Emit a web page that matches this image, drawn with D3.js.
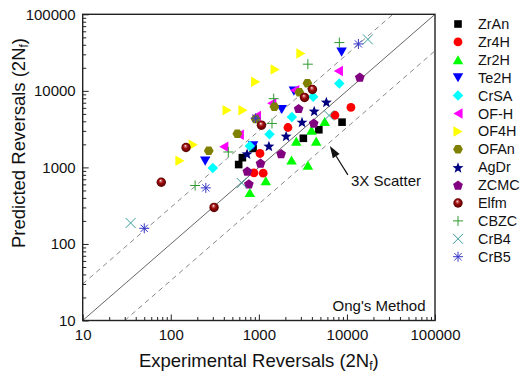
<!DOCTYPE html>
<html>
<head>
<meta charset="utf-8">
<script src="https://cdn.jsdelivr.net/npm/d3@7"></script>
<style>
  body { margin: 0; background: #fff; }
  svg { display: block; font-family: "Liberation Sans", Arial, sans-serif; }
</style>
</head>
<body>
<svg id="chart" width="530" height="372"></svg>
<script>
// ---------------- DATA ----------------
const seriesNames = ["ZrAn","Zr4H","Zr2H","Te2H","CrSA","OF-H","OF4H","OFAn","AgDr","ZCMC","Elfm","CBZC","CrB4","CrB5"];
const ZrAn = [[590,1090],[650,1340],[860,1770],[3200,2400],[4800,3100],[8800,3900]];
const Zr4H = [[880,850],[1120,840],[1030,1520],[2140,3320],[7300,4800],[11100,6100]];
const Zr2H = [[790,470],[1200,670],[2350,1250],[3600,1070],[2660,2200],[3960,3070],[4480,2200],[5600,4000]];
const Te2H = [[246,1210],[860,1920],[1820,5700],[2500,9900],[8700,32000]];
const CrSA = [[300,980],[790,1900],[1320,2720],[2370,4540],[4140,8400],[8200,12500]];
const OFH  = [[400,1860],[600,2670],[940,4700],[1400,6900],[2550,10200],[8000,18200]];
const OF4H = [[127,1220],[180,1980],[436,5600],[660,5600],[920,13100],[1530,19000],[3000,30700]];
const OFAn = [[270,1650],[570,2750],[920,4300],[1500,6200],[2880,9600],[3560,12600]];
const AgDr = [[735,1520],[1300,1920],[2040,2590],[3090,3940],[4250,5500],[5840,7200]];
const ZCMC = [[740,900],[770,610],[1045,1140],[1790,1520],[2830,5900],[4200,3800],[14000,15200]];
const Elfm = [[78,640],[149,1820],[310,300],[1070,3560],[3300,8200],[4060,10400]];
const CBZC = [[189,580],[450,1590],[1410,3750],[1475,7900],[3600,22300],[8200,42700]];
const CrB4 = [[35,188],[640,625],[6270,4770],[17300,47000]];
const CrB5 = [[50,160],[250,540],[920,4400],[13500,41000]];
const seriesData = [ZrAn,Zr4H,Zr2H,Te2H,CrSA,OFH,OF4H,OFAn,AgDr,ZCMC,Elfm,CBZC,CrB4,CrB5];
const majorTicks = [10,100,1000,10000,100000];
const scatterFactor = 3;

// ---------------- STYLE ----------------
const styles = [
  {shape:"square",   color:"#000000", size:7.6},
  {shape:"circle",   color:"#ff0000", size:8.8},
  {shape:"triUp",    color:"#00ff00", size:10.5},
  {shape:"triDown",  color:"#0000ff", size:10.5},
  {shape:"diamond",  color:"#00ffff", size:10.5},
  {shape:"triLeft",  color:"#ff00ff", size:10.5},
  {shape:"triRight", color:"#ffff00", size:10.5},
  {shape:"hexagon",  color:"#808000", size:9.8},
  {shape:"star",     color:"#000080", size:11},
  {shape:"pentagon", color:"#800080", size:10},
  {shape:"sphere",   color:"#800000", size:9.4},
  {shape:"plus",     color:"#2e9a2e", size:10},
  {shape:"cross",    color:"#3a9c9c", size:10},
  {shape:"asterisk", color:"#3838c8", size:10}
];

const W = 530, H = 372;
const L = 82.7, R = 435, T = 14.3, B = 320.5;

const svg = d3.select("#chart");
const defs = svg.append("defs");
const grad = defs.append("radialGradient").attr("id","sphereGrad")
  .attr("cx","0.5").attr("cy","0.5").attr("r","0.55").attr("fx","0.42").attr("fy","0.3");
grad.append("stop").attr("offset","0%").attr("stop-color","#ffffff");
grad.append("stop").attr("offset","18%").attr("stop-color","#d07070");
grad.append("stop").attr("offset","45%").attr("stop-color","#9a0a0a");
grad.append("stop").attr("offset","100%").attr("stop-color","#4a0000");

const x = d3.scaleLog().domain([10,100000]).range([L,R]);
const y = d3.scaleLog().domain([10,100000]).range([B,T]);

// minor ticks
const minorTicks = [];
for (let d = 10; d < 100000; d *= 10) for (let k = 2; k <= 9; k++) minorTicks.push(d*k);

// clip
defs.append("clipPath").attr("id","plotClip").append("rect")
  .attr("x",L).attr("y",T).attr("width",R-L).attr("height",B-T);

// reference lines
const lineGen = d3.line().x(d=>x(d[0])).y(d=>y(d[1]));
const gLines = svg.append("g").attr("clip-path","url(#plotClip)");
gLines.append("path").datum([[10,10],[100000,100000]]).attr("d",lineGen)
  .attr("fill","none").attr("stroke","#666").attr("stroke-width",1);
gLines.append("path").datum([[10,10*scatterFactor],[100000/scatterFactor,100000]]).attr("d",lineGen)
  .attr("fill","none").attr("stroke","#888").attr("stroke-width",1).attr("stroke-dasharray","5,4");
gLines.append("path").datum([[10*scatterFactor,10],[100000,100000/scatterFactor]]).attr("d",lineGen)
  .attr("fill","none").attr("stroke","#888").attr("stroke-width",1).attr("stroke-dasharray","5,4");

// axes
function styleAxis(g){ g.select(".domain").remove(); g.selectAll("line").attr("stroke","#222"); g.selectAll("text").attr("font-size","15px").attr("fill","#111"); }
svg.append("g").attr("transform",`translate(0,${B})`)
  .call(d3.axisBottom(x).tickValues(minorTicks).tickSize(-3.5).tickFormat(""))
  .call(styleAxis);
svg.append("g").attr("transform",`translate(0,${B})`)
  .call(d3.axisBottom(x).tickValues(majorTicks).tickSize(-6).tickPadding(9).tickFormat(d3.format("d")))
  .call(styleAxis);
svg.append("g").attr("transform",`translate(${L},0)`)
  .call(d3.axisLeft(y).tickValues(minorTicks).tickSize(-3.5).tickFormat(""))
  .call(styleAxis);
svg.append("g").attr("transform",`translate(${L},0)`)
  .call(d3.axisLeft(y).tickValues(majorTicks).tickSize(-6).tickPadding(7).tickFormat(d3.format("d")))
  .call(styleAxis);

// frame
svg.append("rect").attr("x",L).attr("y",T).attr("width",R-L).attr("height",B-T)
  .attr("fill","none").attr("stroke","#222").attr("stroke-width",1.4);

// symbol drawers (size = bounding width in px)
function poly(ctx, pts){ ctx.moveTo(pts[0][0],pts[0][1]); for(let i=1;i<pts.length;i++) ctx.lineTo(pts[i][0],pts[i][1]); ctx.closePath(); }
const shapes = {
  square:{draw(c,s){ c.rect(-s/2,-s/2,s,s); }},
  circle:{draw(c,s){ c.moveTo(s/2,0); c.arc(0,0,s/2,0,2*Math.PI); }},
  sphere:{draw(c,s){ c.moveTo(s/2,0); c.arc(0,0,s/2,0,2*Math.PI); }},
  triUp:{draw(c,s){ const h=s*0.87; poly(c,[[0,-h/2],[s/2,h/2],[-s/2,h/2]]); }},
  triDown:{draw(c,s){ const h=s*0.87; poly(c,[[0,h/2],[s/2,-h/2],[-s/2,-h/2]]); }},
  triLeft:{draw(c,s){ const h=s*0.87; poly(c,[[-h/2,0],[h/2,-s/2],[h/2,s/2]]); }},
  triRight:{draw(c,s){ const h=s*0.87; poly(c,[[h/2,0],[-h/2,-s/2],[-h/2,s/2]]); }},
  diamond:{draw(c,s){ poly(c,[[0,-s/2],[s/2,0],[0,s/2],[-s/2,0]]); }},
  hexagon:{draw(c,s){ const r=s/2, p=[]; for(let k=0;k<6;k++){const a=k*Math.PI/3; p.push([r*Math.cos(a), r*Math.sin(a)]);} poly(c,p); }},
  pentagon:{draw(c,s){ const r=s/2*1.02, p=[]; for(let k=0;k<5;k++){const a=-Math.PI/2+k*2*Math.PI/5; p.push([r*Math.cos(a), r*Math.sin(a)+0.6]);} poly(c,p); }},
  star:{draw(c,s){ const r=s/2*1.05, ri=r*0.42, p=[]; for(let k=0;k<10;k++){const a=-Math.PI/2+k*Math.PI/5; const rr=k%2?ri:r; p.push([rr*Math.cos(a), rr*Math.sin(a)+0.8]);} poly(c,p); }},
  plus:{draw(c,s){ c.moveTo(-s/2,0); c.lineTo(s/2,0); c.moveTo(0,-s/2); c.lineTo(0,s/2); }},
  cross:{draw(c,s){ const h=s/2; c.moveTo(-h,-h); c.lineTo(h,h); c.moveTo(-h,h); c.lineTo(h,-h); }},
  asterisk:{draw(c,s){ const h=s/2, q=h*0.72; c.moveTo(-h,0); c.lineTo(h,0); c.moveTo(0,-h); c.lineTo(0,h); c.moveTo(-q,-q); c.lineTo(q,q); c.moveTo(-q,q); c.lineTo(q,-q); }}
};
const lineShapes = new Set(["plus","cross","asterisk"]);
function symPath(st){ return d3.symbol().type(shapes[st.shape]).size(st.size)(); }
function applyStyle(sel, st){
  if (lineShapes.has(st.shape)) sel.attr("fill","none").attr("stroke",st.color).attr("stroke-width",1);
  else if (st.shape==="sphere") sel.attr("fill","url(#sphereGrad)").attr("stroke","none");
  else sel.attr("fill",st.color).attr("stroke","none");
}

// points
seriesData.forEach((data,i)=>{
  const st = styles[i];
  const g = svg.append("g").attr("class","series");
  const p = g.selectAll("path").data(data).join("path")
    .attr("d", symPath(st))
    .attr("transform", d=>`translate(${x(d[0])},${y(d[1])})`);
  applyStyle(p, st);
});

// legend
const legX = 458, legTextX = 478, legY0 = 24, legDy = 17.9;
const leg = svg.append("g");
seriesNames.forEach((name,i)=>{
  const st = styles[i];
  const yy = legY0 + i*legDy;
  const p = leg.append("path").attr("d", symPath(st)).attr("transform",`translate(${legX},${yy})`);
  applyStyle(p, st);
  leg.append("text").attr("x",legTextX).attr("y",yy+5).attr("font-size","14.4px").attr("fill","#111").text(name);
});

// annotation: arrow
const arrowTip = [6400,1900], arrowTail = [10250,800];
const tx = x(arrowTip[0]), ty = y(arrowTip[1]), sx = x(arrowTail[0]), sy = y(arrowTail[1]);
const ang = Math.atan2(ty-sy, tx-sx), hl = 12, hw = 4;
const bx = tx - hl*Math.cos(ang), by = ty - hl*Math.sin(ang);
svg.append("line").attr("x1",sx).attr("y1",sy).attr("x2",bx).attr("y2",by).attr("stroke","#111").attr("stroke-width",1.2);
svg.append("path").attr("d",`M${tx},${ty}L${bx + hw*Math.sin(ang)},${by - hw*Math.cos(ang)}L${bx - hw*Math.sin(ang)},${by + hw*Math.cos(ang)}Z`).attr("fill","#111");
svg.append("text").attr("x",351).attr("y",186).attr("font-size","15px").attr("fill","#111").text("3X Scatter");
svg.append("text").attr("x",425.5).attr("y",310.5).attr("text-anchor","end").attr("font-size","15px").attr("fill","#111").text("Ong's Method");

// axis titles
const xt = svg.append("text").attr("x",(L+R)/2).attr("y",366.5).attr("text-anchor","middle").attr("font-size","18.5px").attr("fill","#111");
xt.append("tspan").text("Experimental Reversals (2N");
xt.append("tspan").attr("font-size","12px").attr("dy","3").text("f");
xt.append("tspan").attr("dy","-3").text(")");
const yt = svg.append("text").attr("transform","translate(25,143) rotate(-90)").attr("text-anchor","middle").attr("font-size","18.5px").attr("fill","#111");
yt.append("tspan").text("Predicted Reversals (2N");
yt.append("tspan").attr("font-size","12px").attr("dy","3").text("f");
yt.append("tspan").attr("dy","-3").text(")");
</script>
</body>
</html>
